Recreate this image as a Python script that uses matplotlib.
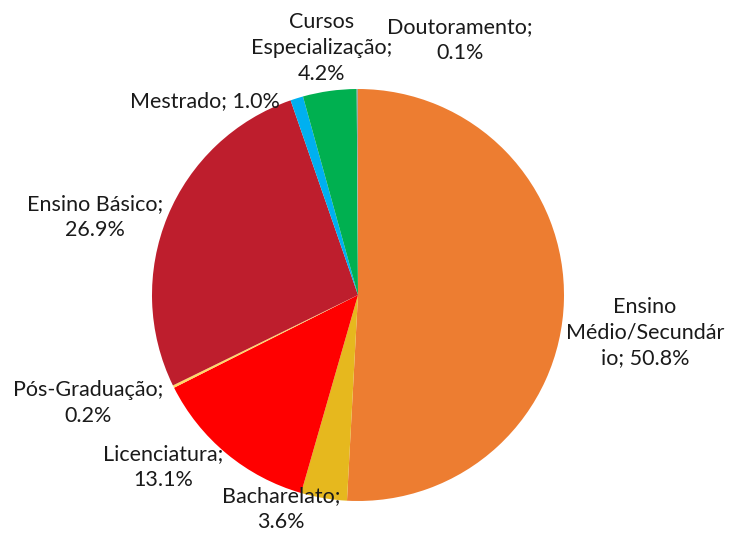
import matplotlib
matplotlib.use('Agg')
import matplotlib.pyplot as plt

# data, clockwise from 12 o'clock
categories = ["Ensino\nMédio/Secundár\nio", "Bacharelato", "Licenciatura", "Pós-Graduação",
              "Ensino Básico", "Mestrado", "Cursos\nEspecialização", "Doutoramento"]
values = [50.8, 3.6, 13.1, 0.2, 26.9, 1.0, 4.2, 0.1]
colors = ["#ED7D31", "#E6B81E", "#FF0000", "#FFD966", "#BE1E2D", "#00B0F0", "#00B050", "#A5A5A5"]
label_text = ["Ensino\nMédio/Secundár\nio; 50.8%", "Bacharelato;\n3.6%", "Licenciatura;\n13.1%",
              "Pós-Graduação;\n0.2%", "Ensino Básico;\n26.9%", "Mestrado; 1.0%",
              "Cursos\nEspecialização;\n4.2%", "Doutoramento;\n0.1%"]
label_pos = [(1.393, -0.184), (-0.374, -1.039), (-0.947, -0.835), (-1.311, -0.524),
             (-1.277, 0.379), (-0.743, 0.942), (-0.175, 1.199), (0.495, 1.238)]

plt.rcParams['font.family'] = ['Lato', 'DejaVu Sans']

fig = plt.figure(figsize=(7.32, 5.34), dpi=100)
ax = fig.add_axes([0, 0, 1, 1])
ax.pie(values, colors=colors, startangle=90, counterclock=False,
       wedgeprops={'linewidth': 0}, radius=1.0)
for txt, (x, y) in zip(label_text, label_pos):
    ax.text(x, y, txt, ha='center', va='center', fontsize=15.5, color='#1a1a1a',
            linespacing=1.35)

ax.set_xlim(-358 / 206, (732 - 358) / 206)
ax.set_ylim((295 - 534) / 206, 295 / 206)
ax.set_aspect('auto')
ax.axis('off')

plt.savefig("out.png", dpi=100)
